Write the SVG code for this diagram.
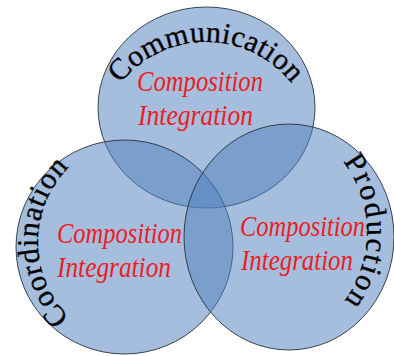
<svg xmlns="http://www.w3.org/2000/svg" xmlns:xlink="http://www.w3.org/1999/xlink" width="394" height="356" viewBox="0 0 394 356">
<style>
.set{fill:#5383bd;fill-opacity:0.52;stroke:#27313d;stroke-width:1;stroke-opacity:0.9}
.lbl{font-family:"Liberation Serif","Times New Roman",serif;font-size:30px;fill:#000;stroke:#000;stroke-width:0.35}
.sub{font-family:"Liberation Serif","Times New Roman",serif;font-style:italic;font-size:29px;fill:#ec1c24}
</style>
<defs>
<path id="arcTop" d="M 97,151 A 109,109 0 0 1 315,151"/>
<path id="arcLeft" d="M 144,348 A 106,106 0 0 1 144,136"/>
<path id="arcRight" d="M 251,116 A 116,116 0 0 1 251,348"/>
</defs>
<rect width="394" height="356" fill="#fff"/>
<g id="communication">
<ellipse class="set" cx="206.5" cy="107.5" rx="108.5" ry="100.5"/>
</g>
<g id="coordination">
<ellipse class="set" cx="124.5" cy="247" rx="108.5" ry="107"/>
</g>
<g id="production">
<ellipse class="set" cx="289" cy="237" rx="105" ry="113"/>
</g>
<g id="communication-labels">
<text class="lbl" letter-spacing="0.3"><textPath xlink:href="#arcTop" href="#arcTop" startOffset="50%" text-anchor="middle">Communication</textPath></text>
<text class="sub" x="137" y="91" textLength="126" lengthAdjust="spacingAndGlyphs">Composition</text>
<text class="sub" x="138" y="125" textLength="115" lengthAdjust="spacingAndGlyphs">Integration</text>
</g>
<g id="coordination-labels">
<text class="lbl" letter-spacing="0.8"><textPath xlink:href="#arcLeft" href="#arcLeft" startOffset="50%" text-anchor="middle">Coordination</textPath></text>
<text class="sub" x="57" y="243" textLength="125" lengthAdjust="spacingAndGlyphs">Composition</text>
<text class="sub" x="57" y="277" textLength="114" lengthAdjust="spacingAndGlyphs">Integration</text>
</g>
<g id="production-labels">
<text class="lbl" font-size="32" letter-spacing="2"><textPath xlink:href="#arcRight" href="#arcRight" startOffset="50%" text-anchor="middle">Production</textPath></text>
<text class="sub" x="240" y="236" textLength="125" lengthAdjust="spacingAndGlyphs">Composition</text>
<text class="sub" x="241" y="270" textLength="112" lengthAdjust="spacingAndGlyphs">Integration</text>
</g>
<g id="connectors"/>
</svg>
